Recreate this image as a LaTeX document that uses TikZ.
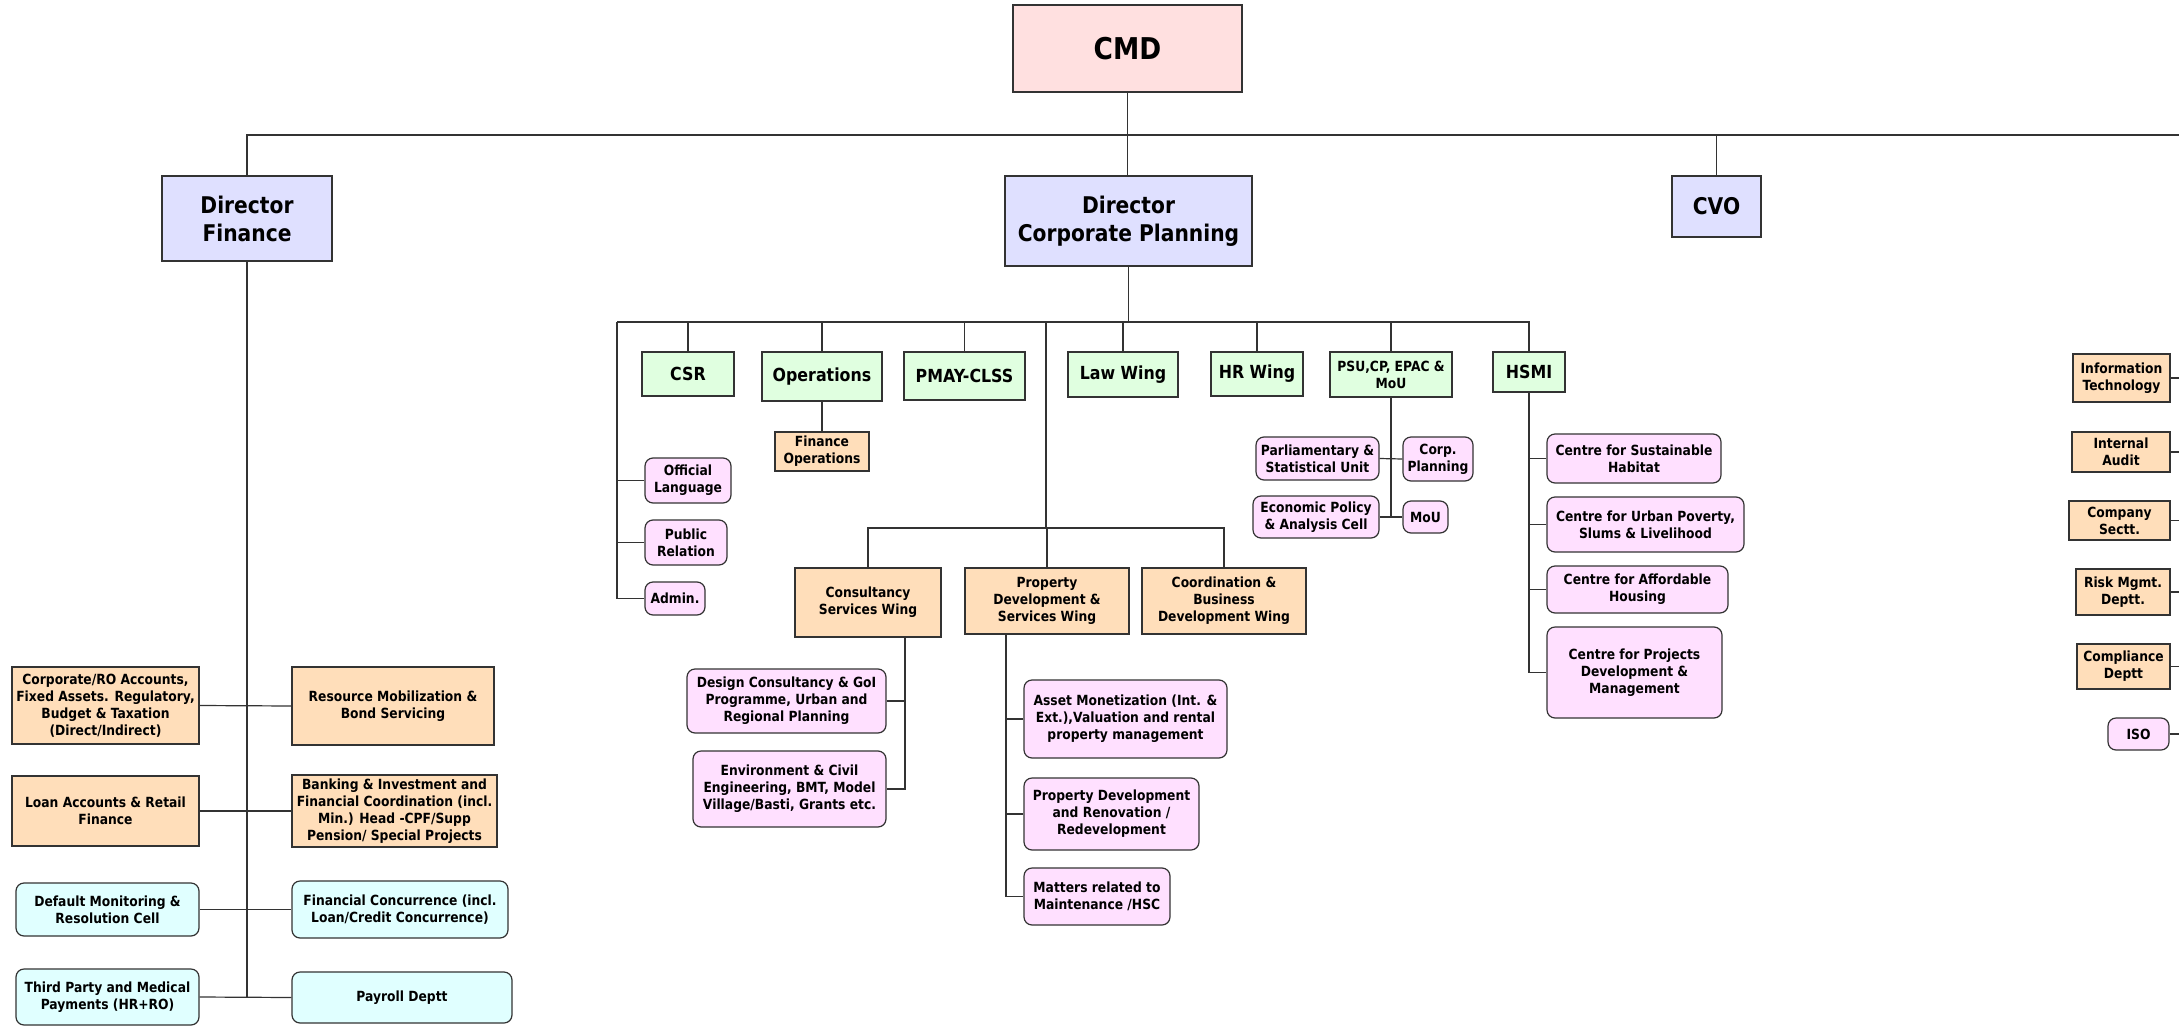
\documentclass[tikz,border=0pt]{standalone}
\usepackage{fontspec}
\setmainfont{DejaVu Sans}[FakeStretch=0.88]
\definecolor{cmdpink}{RGB}{255,224,224}
\definecolor{dirblue}{RGB}{223,224,255}
\definecolor{grnfill}{RGB}{224,255,224}
\definecolor{peachfill}{RGB}{255,222,186}
\definecolor{pinkfill}{RGB}{255,224,255}
\definecolor{cyanfill}{RGB}{224,255,255}
\newcommand{\bx}[7]{%
  \pgfmathsetmacro\bxcx{(#3+#4)/2}\pgfmathsetmacro\bxcy{(#5+#6)/2}%
  \pgfmathsetmacro\bxw{(#4-#3)*0.5}\pgfmathsetmacro\bxh{(#6-#5)*0.5}%
  \node[#2, minimum width=\bxw pt, minimum height=\bxh pt] (#1) at (\bxcx,\bxcy) {#7};}
\tikzset{
  base/.style={draw=black!80, line width=0.6pt, align=center, inner sep=0.5pt,
    font=\bfseries\fontsize{7}{8.5}\selectfont},
  cmdbox/.style={base, fill=cmdpink, font=\bfseries\fontsize{15}{17}\selectfont},
  dirbox/.style={base, fill=dirblue, font=\bfseries\fontsize{11.5}{14}\selectfont},
  grnbox/.style={base, fill=grnfill, font=\bfseries\fontsize{9}{10.5}\selectfont},
  grnsmall/.style={base, fill=grnfill},
  peachbox/.style={base, fill=peachfill},
  pinkbox/.style={base, fill=pinkfill, rounded corners=4pt},
  cyanbox/.style={base, fill=cyanfill, rounded corners=4pt},
  conn/.style={draw=black!80, line width=0.6pt}
}
\begin{document}
\begin{tikzpicture}[x=0.5pt,y=-0.5pt]
\useasboundingbox (0,0) rectangle (2179,1028);
% top level
\bx{CMD}{cmdbox}{1013}{1242}{5}{92}{CMD}
\bx{DF}{dirbox}{162}{332}{176}{261}{Director\\Finance}
\bx{DCP}{dirbox}{1005}{1252}{176}{266}{Director\\Corporate Planning}
\bx{CVO}{dirbox}{1672}{1761}{176}{237}{CVO}
% corporate planning level
\bx{CSR}{grnbox}{642}{734}{352}{396}{CSR}
\bx{OPS}{grnbox}{762}{882}{352}{401}{Operations}
\bx{FO}{peachbox}{775}{869}{432}{471}{Finance\\Operations}
\bx{PMAY}{grnbox}{904}{1025}{352}{400}{PMAY-CLSS}
\bx{LAW}{grnbox}{1068}{1178}{352}{397}{Law Wing}
\bx{HR}{grnbox}{1211}{1303}{352}{396}{HR Wing}
\bx{PSU}{grnsmall}{1330}{1452}{352}{397}{PSU,CP, EPAC \&\\MoU}
\bx{HSMI}{grnbox}{1493}{1565}{352}{392}{HSMI}
\bx{OL}{pinkbox}{645}{731}{458}{503}{Official\\Language}
\bx{PR}{pinkbox}{645}{727}{520}{565}{Public\\Relation}
\bx{ADM}{pinkbox}{645}{705}{582}{615}{Admin.}
\bx{CSW}{peachbox}{795}{941}{568}{637}{Consultancy\\Services Wing}
\bx{PDSW}{peachbox}{965}{1129}{568}{634}{Property\\Development \&\\Services Wing}
\bx{CBDW}{peachbox}{1142}{1306}{568}{634}{Coordination \&\\Business\\Development Wing}
\bx{DC}{pinkbox}{687}{886}{669}{733}{Design Consultancy \& GoI\\Programme, Urban and\\Regional Planning}
\bx{ENV}{pinkbox}{693}{886}{751}{827}{Environment \& Civil\\Engineering, BMT, Model\\Village/Basti, Grants etc.}
\bx{AM}{pinkbox}{1024}{1227}{680}{758}{Asset Monetization (Int. \&\\Ext.),Valuation and rental\\property management}
\bx{PDR}{pinkbox}{1024}{1199}{778}{850}{Property Development\\and Renovation /\\Redevelopment}
\bx{MR}{pinkbox}{1024}{1170}{868}{925}{Matters related to\\Maintenance /HSC}
\bx{PAR}{pinkbox}{1256}{1379}{437}{480}{Parliamentary \&\\Statistical Unit}
\bx{CORP}{pinkbox}{1403}{1473}{437}{481}{Corp.\\Planning}
\bx{EPA}{pinkbox}{1253}{1379}{496}{538}{Economic Policy\\\& Analysis Cell}
\bx{MOU}{pinkbox}{1403}{1448}{501}{533}{MoU}
\bx{CSH}{pinkbox}{1547}{1721}{434}{483}{Centre for Sustainable\\Habitat}
\bx{CUP}{pinkbox}{1547}{1744}{497}{552}{Centre for Urban Poverty,\\Slums \& Livelihood}
\bx{CAH}{pinkbox}{1547}{1728}{566}{613}{Centre for Affordable\\Housing}
\bx{CPD}{pinkbox}{1547}{1722}{627}{718}{Centre for Projects\\Development \&\\Management}
% right column
\bx{IT}{peachbox}{2073}{2170}{354}{402}{Information\\Technology}
\bx{IA}{peachbox}{2072}{2170}{432}{472}{Internal\\Audit}
\bx{CS}{peachbox}{2069}{2170}{501}{540}{Company\\Sectt.}
\bx{RMD}{peachbox}{2076}{2170}{569}{615}{Risk Mgmt.\\Deptt.}
\bx{CD}{peachbox}{2077}{2170}{644}{689}{Compliance\\Deptt}
\bx{ISO}{pinkbox}{2108}{2169}{718}{750}{ISO}
% finance
\bx{CRO}{peachbox}{12}{199}{667}{744}{Corporate/RO Accounts,\\Fixed Assets. Regulatory,\\Budget \& Taxation\\(Direct/Indirect)}
\bx{RMB}{peachbox}{292}{494}{667}{745}{Resource Mobilization \&\\Bond Servicing}
\bx{LA}{peachbox}{12}{199}{776}{846}{Loan Accounts \& Retail\\Finance}
\bx{BI}{peachbox}{292}{497}{775}{847}{Banking \& Investment and\\Financial Coordination (incl.\\Min.) Head -CPF/Supp\\Pension/ Special Projects}
\bx{DM}{cyanbox}{16}{199}{883}{936}{Default Monitoring \&\\Resolution Cell}
\bx{FC}{cyanbox}{292}{508}{881}{938}{Financial Concurrence (incl.\\Loan/Credit Concurrence)}
\bx{TP}{cyanbox}{16}{199}{969}{1025}{Third Party and Medical\\Payments (HR+RO)}
\bx{PAY}{cyanbox}{292}{512}{972}{1023}{Payroll Deptt}
% coordinates
\coordinate (topR) at (2179,135);
\coordinate (cpL) at (617,322);
\coordinate (cpM) at (1046,322);
\coordinate (wbar) at (1046,528);
\coordinate (edge) at (2179,0);
\path (CSW.south) ++(37,0) coordinate (csv);
\path (PDSW.south) ++(-41,0) coordinate (pdv);
% connectors top
\draw[conn] (CMD.south) -- (CMD.south |- DCP.north);
\draw[conn] (DF.north) |- (topR);
\draw[conn] (CVO.north) -- (CVO.north |- topR);
% corporate planning bar
\draw[conn] (DCP.south) -- (DCP.south |- cpL);
\draw[conn] (cpL) -- (HSMI.north |- cpL) -- (HSMI.north);
\foreach \n in {CSR,OPS,PMAY,LAW,HR,PSU} \draw[conn] (\n.north) -- (\n.north |- cpL);
\draw[conn] (OPS.south) -- (FO.north);
\draw[conn] (cpL) |- (ADM.west);
\draw[conn] (OL.west) -- (OL.west -| cpL);
\draw[conn] (PR.west) -- (PR.west -| cpL);
% wings
\draw[conn] (cpM) -- (wbar);
\draw[conn] (CSW.north) -- (CSW.north |- wbar) -- (CBDW.north |- wbar) -- (CBDW.north);
\draw[conn] (PDSW.north) -- (PDSW.north |- wbar);
\draw[conn] (csv) |- (ENV.east);
\draw[conn] (DC.east) -- (DC.east -| csv);
\draw[conn] (pdv) |- (MR.west);
\draw[conn] (AM.west) -- (AM.west -| pdv);
\draw[conn] (PDR.west) -- (PDR.west -| pdv);
% PSU
\draw[conn] (PSU.south) -- (PSU.south |- EPA.east);
\draw[conn] (PAR.east) -- (CORP.west);
\draw[conn] (EPA.east) -- (MOU.west);
% HSMI
\draw[conn] (HSMI.south) |- (CPD.west);
\foreach \n in {CSH,CUP,CAH} \draw[conn] (\n.west) -- (\n.west -| HSMI.south);
% right column
\foreach \n in {IT,IA,CS,RMD,CD,ISO} \draw[conn] (\n.east) -- (\n.east -| edge);
% finance
\draw[conn] (DF.south) -- (DF.south |- TP.east);
\draw[conn] (CRO.east) -- (RMB.west);
\draw[conn] (LA.east) -- (BI.west);
\draw[conn] (DM.east) -- (FC.west);
\draw[conn] (TP.east) -- (PAY.west);
\end{tikzpicture}
\end{document}
